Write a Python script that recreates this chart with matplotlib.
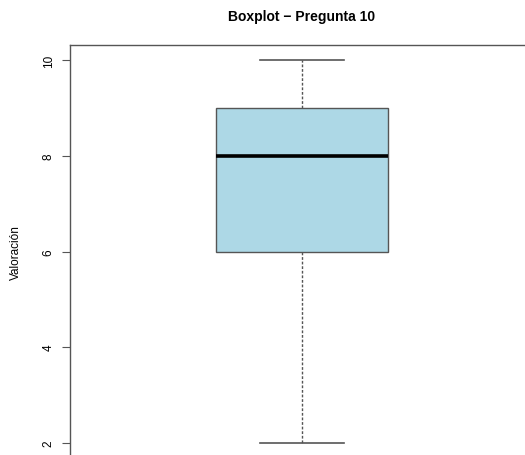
import matplotlib
matplotlib.use("Agg")
import matplotlib.pyplot as plt

plt.rcParams['font.family'] = ['Liberation Sans', 'DejaVu Sans']

# resumen de la pregunta 10
titulo = "Boxplot \u2212 Pregunta 10"
etiqueta_y = "Valoración"
minimo = 2
q1 = 6
mediana = 8
q3 = 9
maximo = 10
ticks_y = [2, 4, 6, 8, 10]

stats = [{'whislo': minimo, 'q1': q1, 'med': mediana, 'q3': q3, 'whishi': maximo, 'fliers': []}]

fig = plt.figure(figsize=(5.25, 4.56), dpi=100)
ax = fig.add_axes([70/525, 1 - 459/456, 464/525, 413/456])

gris = '#555555'
ax.bxp(stats, positions=[1], widths=0.37, patch_artist=True,
       boxprops=dict(facecolor='#ADD8E6', edgecolor=gris, linewidth=1),
       medianprops=dict(color='black', linewidth=2.6),
       whiskerprops=dict(color=gris, linestyle=(0, (2, 1.3)), linewidth=1),
       capprops=dict(color=gris, linewidth=1.2),
       capwidths=0.183, showfliers=False)

ax.set_xlim(0.5, 1.5)
ax.set_ylim(1.68, 10.32)
ax.set_xticks([])
ax.set_yticks(ticks_y)
ax.tick_params(axis='y', length=6, width=0.8, color=gris, pad=5, labelsize=8.5,
               labelrotation=90)
for lab in ax.get_yticklabels():
    lab.set_va('center')
for s in ax.spines.values():
    s.set_color(gris)
    s.set_linewidth(1)

ax.set_ylabel(etiqueta_y, fontsize=8.5, labelpad=15)
ax.set_title(titulo, fontsize=10, fontweight='bold', pad=18)

fig.savefig("out.png", dpi=100)
